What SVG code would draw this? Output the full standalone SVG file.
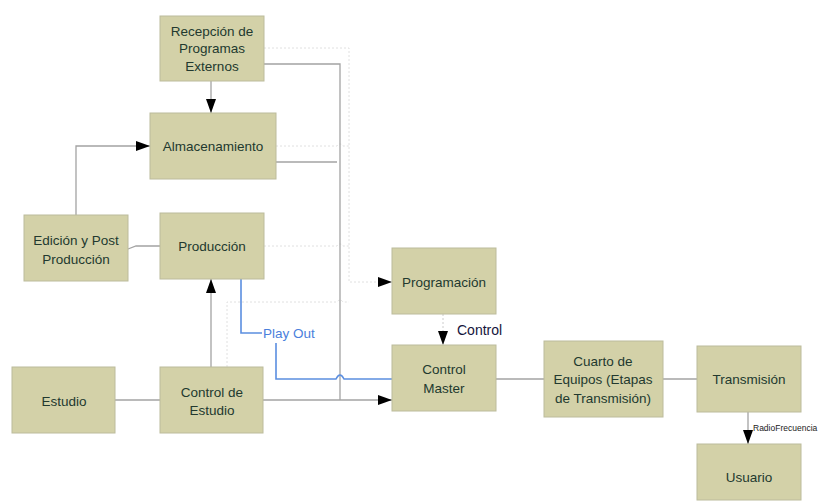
<svg xmlns="http://www.w3.org/2000/svg" width="831" height="502" viewBox="0 0 831 502">
  <style>
    .box rect { fill: #d3d1a8; stroke: #bcbb9c; stroke-width: 1; }
    .box text { font-family: "Liberation Sans", Arial, sans-serif; font-size: 13.5px; fill: #22392f; text-anchor: middle; }
    .wire { fill: none; stroke: #a3a3a3; stroke-width: 1.3; }
    .faint { fill: none; stroke: #e0e0e0; stroke-width: 1; stroke-dasharray: 2 2; }
    .blue { fill: none; stroke: #5b8ee0; stroke-width: 1.6; }
    .lbl { font-family: "Liberation Sans", Arial, sans-serif; }
  </style>
  <defs>
    <marker id="arrow" viewBox="0 0 14 10" refX="14" refY="5" markerWidth="14" markerHeight="10" markerUnits="userSpaceOnUse" orient="auto">
      <path d="M0,0 L14,5 L0,10 z" fill="#000"/>
    </marker>
  </defs>
  <rect width="831" height="502" fill="#fff"/>

  <g id="connectors">
    <!-- faint dotted guides -->
    <path class="faint" d="M264,48 H349 V282 H392" marker-end="url(#arrow)"/>
    <path class="faint" d="M276,146 H337 Q340,142 343,146 H349"/>
    <path class="faint" d="M264,246 H337 Q340,242 343,246 H349"/>
    <path class="faint" d="M227,367 V302 H337 Q340,298 343,302 H349"/>

    <!-- Recepción -> Almacenamiento -->
    <path class="wire" d="M211,81 V113" marker-end="url(#arrow)"/>
    <!-- Recepción right trunk down to studio line -->
    <path class="wire" d="M264,64 H340 V400"/>
    <!-- Almacenamiento stub -->
    <path class="wire" d="M276,162 H337"/>
    <!-- Edición -> Almacenamiento -->
    <path class="wire" d="M76,215 V146 H150" marker-end="url(#arrow)"/>
    <!-- Edición - Producción -->
    <path class="wire" d="M128,249 L136,246 H160"/>
    <!-- Control de Estudio -> Producción -->
    <path class="wire" d="M211,367 V279" marker-end="url(#arrow)"/>
    <!-- Estudio - Control de Estudio -->
    <path class="wire" d="M115,400 H160"/>
    <!-- Control de Estudio -> Control Master -->
    <path class="wire" d="M263,400 H392" marker-end="url(#arrow)"/>
    <!-- Programación -> Control Master -->
    <path d="M443,314 V345" fill="none" stroke="#cccccc" stroke-width="1" stroke-dasharray="2 2" marker-end="url(#arrow)"/>
    <!-- Control Master - Cuarto - Transmisión -->
    <path class="wire" d="M496,379 H544"/>
    <path class="wire" d="M663,379 H697"/>
    <!-- Transmisión -> Usuario -->
    <path class="wire" d="M748,412 V444" marker-end="url(#arrow)"/>
    <!-- Play Out -->
    <path class="blue" d="M241,279 V333 H262"/>
    <path class="blue" d="M276,343 V379 H336 Q340,371 344,379 H392"/>

    <text class="lbl" x="263" y="338" font-size="13.5" fill="#4a7fdc">Play Out</text>
    <text class="lbl" x="457" y="335" font-size="14" fill="#14143c">Control</text>
    <text class="lbl" x="753" y="431" font-size="8.5" fill="#222">RadioFrecuencia</text>
  </g>

  <g id="recepcion" class="box">
    <rect x="160" y="16" width="104" height="65"/>
    <text x="212" y="36">Recepción de</text>
    <text x="212" y="53">Programas</text>
    <text x="212" y="71">Externos</text>
  </g>
  <g id="almacenamiento" class="box">
    <rect x="150" y="113" width="126" height="66"/>
    <text x="213" y="151">Almacenamiento</text>
  </g>
  <g id="edicion" class="box">
    <rect x="24" y="215" width="104" height="66"/>
    <text x="76" y="245">Edición y Post</text>
    <text x="76" y="264">Producción</text>
  </g>
  <g id="produccion" class="box">
    <rect x="160" y="213" width="104" height="66"/>
    <text x="212" y="251">Producción</text>
  </g>
  <g id="programacion" class="box">
    <rect x="392" y="248" width="104" height="66"/>
    <text x="444" y="287">Programación</text>
  </g>
  <g id="control-master" class="box">
    <rect x="392" y="345" width="104" height="66"/>
    <text x="444" y="374">Control</text>
    <text x="444" y="393">Master</text>
  </g>
  <g id="estudio" class="box">
    <rect x="12" y="367" width="103" height="66"/>
    <text x="64" y="406">Estudio</text>
  </g>
  <g id="control-estudio" class="box">
    <rect x="160" y="367" width="103" height="66"/>
    <text x="212" y="397">Control de</text>
    <text x="212" y="415">Estudio</text>
  </g>
  <g id="cuarto-equipos" class="box">
    <rect x="544" y="341" width="119" height="76"/>
    <text x="603" y="366">Cuarto de</text>
    <text x="603" y="384">Equipos (Etapas</text>
    <text x="603" y="403">de Transmisión)</text>
  </g>
  <g id="transmision" class="box">
    <rect x="697" y="346" width="104" height="66"/>
    <text x="749" y="384">Transmisión</text>
  </g>
  <g id="usuario" class="box">
    <rect x="697" y="444" width="104" height="56"/>
    <text x="749" y="482">Usuario</text>
  </g>
</svg>
